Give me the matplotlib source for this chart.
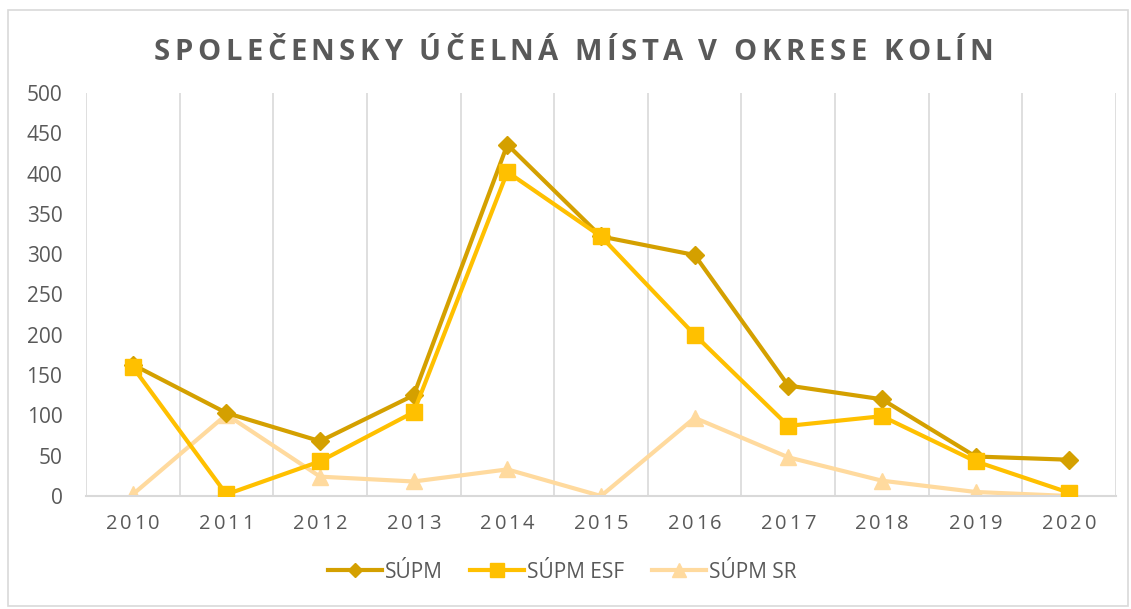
import matplotlib.pyplot as plt
from matplotlib.patches import Rectangle
from matplotlib.font_manager import FontProperties
from matplotlib.transforms import IdentityTransform

years = ["2010", "2011", "2012", "2013", "2014", "2015", "2016", "2017", "2018", "2019", "2020"]
supm = [163, 103, 68, 125, 436, 322, 299, 137, 120, 49, 45]
supm_esf = [160, 2, 43, 104, 402, 322, 200, 87, 99, 43, 4]
supm_sr = [2, 101, 24, 18, 33, 0, 97, 48, 19, 5, 0]

plt.rcParams["font.family"] = ["Open Sans", "DejaVu Sans"]
W, H = 1131, 609
GREY = "#595959"

fig = plt.figure(figsize=(W / 100, H / 100), dpi=100)
ax = fig.add_axes([86 / W, 1 - 496 / H, 1030 / W, 403 / H])
renderer = fig.canvas.get_renderer()


def text_w(s, fp):
    w, h, d = renderer.get_text_width_height_descent(s, fp, ismath=False)
    return w


def tracked_text(xc, yc, s, track, fp, color):
    # draw text centred at (xc, yc) display px, with extra letter spacing
    bar = text_w("|", fp)
    lefts = [0 if i == 0 else text_w(s[:i] + "|", fp) - bar for i in range(len(s))]
    total = text_w(s, fp) + track * (len(s) - 1)
    x0 = xc - total / 2
    for i, ch in enumerate(s):
        fig.text(x0 + lefts[i] + i * track, yc, ch, transform=IdentityTransform(),
                 ha="left", va="center", fontproperties=fp, color=color)


x = list(range(len(years)))
ax.plot(x, supm, color="#D4A000", lw=3, marker="D", ms=9.5, label="SÚPM", zorder=3)
ax.plot(x, supm_esf, color="#FFC000", lw=3, marker="s", ms=12, label="SÚPM ESF", zorder=4)
ax.plot(x, supm_sr, color="#FFDA9E", lw=3, marker="^", ms=12, label="SÚPM SR", zorder=2)

ax.set_xlim(-0.5, len(years) - 0.5)
ax.set_ylim(0, 500)
ax.set_yticks(range(0, 501, 50))
ax.set_xticks(x)
ax.set_xticklabels([])

# vertical gridlines between categories
for b in range(len(years) + 1):
    ax.axvline(b - 0.5, color="#D9D9D9", lw=1.2, zorder=0)

for s in ["top", "right", "left"]:
    ax.spines[s].set_visible(False)
ax.spines["bottom"].set_color("#D9D9D9")
ax.spines["bottom"].set_linewidth(1.5)
ax.tick_params(axis="both", length=0, colors=GREY, labelsize=15)
ax.tick_params(axis="y", pad=17)

# letter-spaced year labels
fp_x = FontProperties(family=["Open Sans", "DejaVu Sans"], size=14.5)
for i, yr in enumerate(years):
    px, py = ax.transData.transform((i, 0))
    tracked_text(px, H - 524, yr, 2.6, fp_x, GREY)

fp_t = FontProperties(family=["Open Sans", "DejaVu Sans"], size=21, weight="bold")
tracked_text(W * 0.507, H - 52, "SPOLEČENSKY ÚČELNÁ MÍSTA V OKRESE KOLÍN", 4.5, fp_t, GREY)

fig.legend(loc="center", bbox_to_anchor=(0.497, 1 - 572 / H), ncol=3, frameon=False,
           fontsize=15, labelcolor=GREY, handlelength=2.6, handletextpad=0.15,
           columnspacing=1.3, markerscale=0.8)

fig.patches.append(Rectangle((8 / W, 3 / H), 1120 / W, 596 / H,
                             transform=fig.transFigure, fill=False,
                             edgecolor="#D9D9D9", lw=1.2))

fig.savefig("out.png", dpi=100)
